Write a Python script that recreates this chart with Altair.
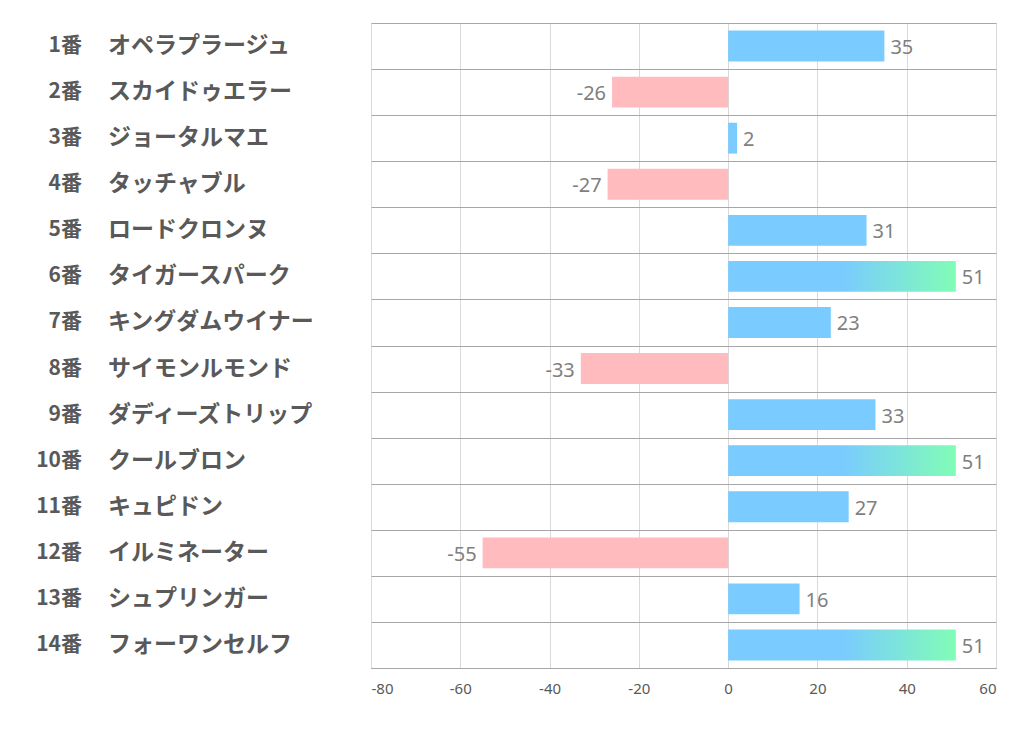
import altair as alt
import pandas as pd

nums = ["1番", "2番", "3番", "4番", "5番", "6番", "7番", "8番", "9番", "10番", "11番", "12番", "13番", "14番"]
names = ["オペラプラージュ", "スカイドゥエラー", "ジョータルマエ", "タッチャブル", "ロードクロンヌ",
         "タイガースパーク", "キングダムウイナー", "サイモンルモンド", "ダディーズトリップ", "クールブロン",
         "キュピドン", "イルミネーター", "シュプリンガー", "フォーワンセルフ"]
values = [35, -26, 2, -27, 31, 51, 23, -33, 33, 51, 27, -55, 16, 51]
ticks = [-80, -60, -40, -20, 0, 20, 40, 60]

df = pd.DataFrame({"num": nums, "name": names, "value": values})
df["key"] = df["num"]
order = list(nums)

BLUE = "#7ACBFF"
PINK = "#FFBBBE"
GREEN = "#80FDB6"

y_enc = alt.Y("key:N", sort=order,
              scale=alt.Scale(domain=order, paddingInner=0, paddingOuter=0),
              axis=alt.Axis(title=None, labels=False, ticks=False, domain=False,
                            grid=True, tickBand="extent", gridColor="#a6a6a6", gridWidth=1))
x_enc = alt.X("value:Q", scale=alt.Scale(domain=[-80, 60], nice=False),
              axis=alt.Axis(title=None, values=ticks, labelExpr="'' + datum.value",
                            grid=True, gridColor="#d9d9d9", ticks=False,
                            domainColor="#a6a6a6", labelFontSize=15, labelColor="#595959",
                            labelFont="Noto Sans", labelPadding=13))

base = alt.Chart(df).transform_calculate(label="'' + datum.value")

pos = base.transform_filter("datum.value >= 0 && datum.value < 51").mark_bar(
    color=BLUE, height={"band": 0.67}).encode(x=x_enc, x2=alt.datum(0), y=y_enc)
neg = base.transform_filter("datum.value < 0").mark_bar(
    color=PINK, height={"band": 0.67}).encode(x=x_enc, x2=alt.datum(0), y=y_enc)
grad = base.transform_filter("datum.value >= 51").mark_bar(
    height={"band": 0.67},
    color=alt.Gradient(gradient="linear", x1=0, x2=1, y1=0, y2=0,
                       stops=[alt.GradientStop(color=BLUE, offset=0),
                              alt.GradientStop(color=BLUE, offset=0.5),
                              alt.GradientStop(color=GREEN, offset=1)])
).encode(x=x_enc, x2=alt.datum(0), y=y_enc)

lab_pos = base.transform_filter("datum.value >= 0").mark_text(
    align="left", baseline="middle", dx=6, dy=2, fontSize=20, color="#7f7f7f", font="Noto Sans"
).encode(x=x_enc, y=y_enc, text="label:N")
lab_neg = base.transform_filter("datum.value < 0").mark_text(
    align="right", baseline="middle", dx=-6, dy=2, fontSize=20, color="#7f7f7f", font="Noto Sans"
).encode(x=x_enc, y=y_enc, text="label:N")

num_text = base.mark_text(
    align="right", baseline="middle", fontSize=21, fontWeight="bold", color="#595959",
    font="Noto Sans CJK JP"
).encode(x=alt.value(-289), y=y_enc, text="num:N")
name_text = base.mark_text(
    align="left", baseline="middle", fontSize=23, fontWeight="bold", color="#595959",
    font="Noto Sans CJK JP", limit=400
).encode(x=alt.value(-263), y=y_enc, text="name:N")

chart = alt.layer(pos, neg, grad, lab_pos, lab_neg, num_text, name_text).properties(
    width=625, height=645,
    autosize=alt.AutoSizeParams(type="none"),
    padding={"left": 363, "top": 15, "right": 10, "bottom": 50},
).configure_view(stroke=None).configure(background="white")

chart.save("out.html", embed_options={"renderer": "svg", "actions": False})
